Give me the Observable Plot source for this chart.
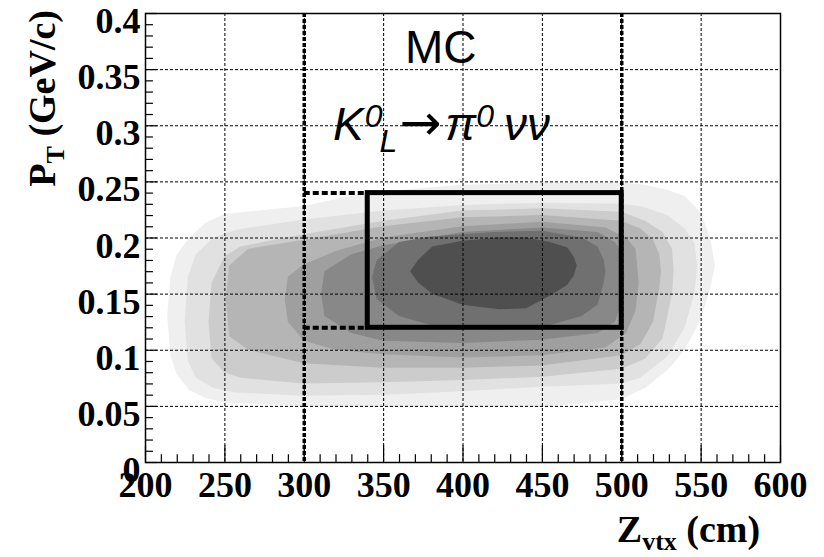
<!DOCTYPE html>
<html>
<head>
<meta charset="utf-8">
<script src="https://cdn.jsdelivr.net/npm/d3@7"></script>
<script src="https://cdn.jsdelivr.net/npm/@observablehq/plot@0.6"></script>
<style>
  html, body { margin: 0; padding: 0; background: white; }
</style>
</head>
<body>
<div id="chart"></div>
<script>
// ---- Data ----
// Axis ticks
const xTicks = [200, 250, 300, 350, 400, 450, 500, 550, 600];
const yTicks = [0, 0.05, 0.1, 0.15, 0.2, 0.25, 0.3, 0.35, 0.4];
const xGrid = [250, 300, 350, 400, 450, 500, 550];
const yGrid = [0.05, 0.1, 0.15, 0.2, 0.25, 0.3, 0.35];

// Signal region
const cutZ = [300, 500];
const boxZ = [340, 500];
const boxPt = [0.12, 0.24];

// Contour bands (MC distribution), rows: [Zvtx, pT low, pT high], lightest to darkest
const level1 = [[214,0.13,0.13],[216,0.095,0.165],[220,0.078,0.185],[228,0.064,0.2],[238,0.057,0.213],[250,0.053,0.221],[300,0.05,0.228],[340,0.049,0.24],[400,0.049,0.247],[450,0.049,0.249],[500,0.056,0.249],[515,0.066,0.247],[530,0.083,0.242],[540,0.1,0.237],[550,0.127,0.222],[556,0.155,0.2],[559,0.175,0.175]];
const level2 = [[225,0.125,0.125],[227,0.09,0.165],[232,0.075,0.185],[243,0.066,0.2],[257,0.062,0.207],[300,0.059,0.216],[350,0.06,0.224],[400,0.063,0.229],[450,0.067,0.231],[500,0.07,0.23],[512,0.075,0.228],[529,0.094,0.22],[540,0.12,0.208],[546,0.15,0.195],[548,0.175,0.175]];
const level3 = [[240,0.125,0.125],[242,0.092,0.16],[250,0.08,0.183],[260,0.075,0.192],[300,0.07,0.203],[350,0.071,0.215],[400,0.073,0.224],[450,0.076,0.226],[500,0.083,0.223],[515,0.092,0.215],[526,0.11,0.205],[532,0.15,0.19],[533,0.17,0.17]];
const level4 = [[251,0.145,0.145],[253,0.112,0.175],[265,0.1,0.19],[300,0.088,0.198],[350,0.084,0.21],[400,0.084,0.218],[450,0.086,0.22],[500,0.095,0.215],[512,0.105,0.208],[520,0.125,0.198],[524,0.155,0.185],[525,0.17,0.17]];
const level5 = [[288,0.145,0.145],[290,0.125,0.165],[300,0.108,0.176],[320,0.1,0.188],[350,0.096,0.2],[400,0.093,0.21],[450,0.095,0.214],[490,0.102,0.209],[503,0.115,0.2],[509,0.135,0.19],[511,0.16,0.16]];
const level6 = [[311,0.15,0.15],[313,0.13,0.17],[330,0.115,0.185],[350,0.108,0.193],[400,0.106,0.205],[450,0.109,0.209],[485,0.115,0.205],[496,0.125,0.196],[501,0.145,0.185],[502,0.165,0.165]];
const level7 = [[343,0.165,0.165],[346,0.145,0.18],[360,0.13,0.196],[380,0.122,0.201],[420,0.118,0.205],[450,0.12,0.206],[475,0.13,0.2],[485,0.14,0.192],[489,0.16,0.18],[490,0.17,0.17]];
const level8 = [[367,0.17,0.17],[372,0.16,0.18],[381,0.15,0.192],[400,0.14,0.197],[423,0.136,0.2],[440,0.137,0.2],[455,0.148,0.196],[466,0.158,0.191],[470,0.166,0.183],[472,0.175,0.175]];

const levels = [level1, level2, level3, level4, level5, level6, level7, level8];
const levelColors = ["#efefef", "#e1e1e1", "#cccccc", "#b5b5b5", "#9f9f9f", "#888888", "#707070", "#4f4f4f"];

// ---- Chart ----
const serif = "'Liberation Serif', 'Times New Roman', serif";
const sans = "'Liberation Sans', Arial, sans-serif";

const rows = (arr) => arr.map(([z, lo, hi]) => ({z, lo, hi}));

const minorX = d3.range(200, 601, 10).filter(v => v % 50 !== 0);
const minorY = d3.range(0, 41, 1).filter(v => v % 5 !== 0).map(v => v / 100);

const marks = [];
levels.forEach((lv, i) => {
  marks.push(Plot.areaY(rows(lv), {x: "z", y1: "lo", y2: "hi", fill: levelColors[i], curve: "linear"}));
});
marks.push(
  Plot.ruleX(xGrid, {stroke: "black", strokeWidth: 1, strokeDasharray: "3,2"}),
  Plot.ruleY(yGrid, {stroke: "black", strokeWidth: 1, strokeDasharray: "3,2"}),
  Plot.ruleX(cutZ, {stroke: "black", strokeWidth: 3.5, strokeDasharray: "4,2"}),
  Plot.ruleY(boxPt, {x1: cutZ[0], x2: boxZ[0], stroke: "black", strokeWidth: 4, strokeDasharray: "6,3"}),
  Plot.rect([{x1: boxZ[0], x2: boxZ[1], y1: boxPt[0], y2: boxPt[1]}], {x1: "x1", x2: "x2", y1: "y1", y2: "y2", fill: "none", stroke: "black", strokeWidth: 5}),
  // inward ticks
  Plot.ruleX(xTicks, {y1: 0, y2: 0.015, stroke: "black", strokeWidth: 1.2}),
  Plot.ruleX(minorX, {y1: 0, y2: 0.007, stroke: "black", strokeWidth: 1.2}),
  Plot.ruleY(yTicks, {x1: 200, x2: 207.5, stroke: "black", strokeWidth: 1.2}),
  Plot.ruleY(minorY, {x1: 200, x2: 205, stroke: "black", strokeWidth: 1.2}),
  Plot.frame({stroke: "black", strokeWidth: 1.5}),
  Plot.axisX(xTicks, {tickSize: 0, tickPadding: 9, fontSize: 36, fontWeight: "bold", fontFamily: serif, label: null, tickFormat: d => String(d)}),
  Plot.axisY(yTicks, {tickSize: 0, tickPadding: 5, dy: 8, fontSize: 36, fontWeight: "bold", fontFamily: serif, label: null, tickFormat: d => String(d)}),
  Plot.text(["MC"], {x: 386, y: 0.356, text: d => d, lineAnchor: "bottom", fontSize: 46, fontFamily: sans, fill: "black"})
);

const plot = Plot.plot({
  width: 824,
  height: 557,
  marginLeft: 145,
  marginRight: 44,
  marginTop: 13,
  marginBottom: 95,
  x: {domain: [200, 600]},
  y: {domain: [0, 0.4]},
  style: {background: "white", color: "black", overflow: "visible"},
  marks
});

const svg = d3.select(plot);
const sx = plot.scale("x"), sy = plot.scale("y");

// Decay formula K0_L -> pi0 nu nu
const f = svg.append("text")
  .attr("x", sx.apply(318.5)).attr("y", sy.apply(0.287))
  .attr("text-anchor", "start")
  .attr("font-family", sans).attr("font-size", 46).attr("font-style", "italic").attr("fill", "black");
f.append("tspan").text("K");
f.append("tspan").attr("font-size", 32).attr("dy", -13).attr("dx", 1).text("0");
f.append("tspan").attr("font-size", 32).attr("dy", 25).attr("dx", -3).text("L");
f.append("tspan").attr("font-style", "normal").attr("font-family", "'DejaVu Sans', sans-serif").attr("font-size", 50).attr("dy", -12).attr("dx", 2).text("\u2192");
f.append("tspan").attr("dx", 4).text("\u03C0");
f.append("tspan").attr("font-size", 32).attr("dy", -13).text("0");
f.append("tspan").attr("dy", 13).attr("dx", 10).text("\u03BD\u03BD");

// X axis title
const xt = svg.append("text")
  .attr("x", sx.apply(587.5)).attr("y", 542)
  .attr("text-anchor", "end")
  .attr("font-family", serif).attr("font-weight", "bold").attr("font-size", 38).attr("fill", "black");
xt.append("tspan").text("Z");
xt.append("tspan").attr("font-size", 26).attr("dy", 8).text("vtx");
xt.append("tspan").attr("dy", -8).text(" (cm)");

// Y axis title
const yt = svg.append("text")
  .attr("transform", `translate(55, ${sy.apply(0.4) - 3}) rotate(-90)`)
  .attr("text-anchor", "end")
  .attr("font-family", serif).attr("font-weight", "bold").attr("font-size", 38).attr("fill", "black");
yt.append("tspan").text("P");
yt.append("tspan").attr("font-size", 26).attr("dy", 9).text("T");
yt.append("tspan").attr("dy", -9).text(" (GeV/c)");

document.getElementById("chart").append(plot);
</script>
</body>
</html>
